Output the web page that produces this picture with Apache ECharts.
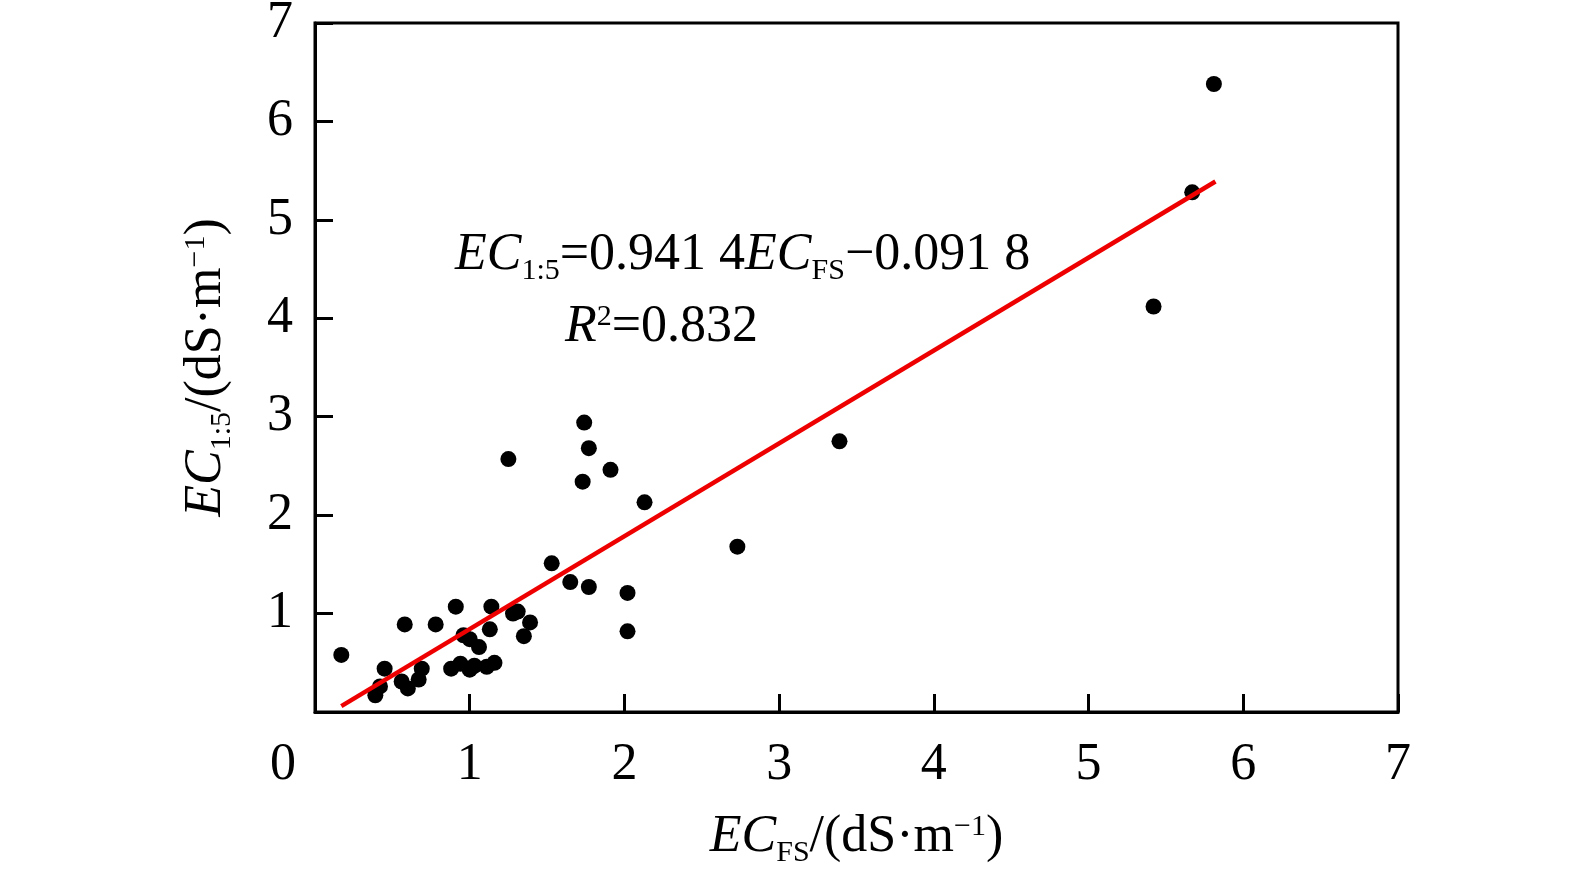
<!DOCTYPE html>
<html>
<head>
<meta charset="utf-8">
<script src="https://cdn.jsdelivr.net/npm/echarts@6/dist/echarts.min.js"></script>
<style>
html, body { margin: 0; padding: 0; background: #fff; }
#chart { width: 1575px; height: 875px; }
</style>
</head>
<body>
<div id="chart"></div>
<script>
// measured points: EC_FS (x) vs EC_1:5 (y)
const ecFS = [
  0.17, 0.39, 0.42, 0.45, 0.56, 0.58, 0.60, 0.67, 0.69, 0.78,
  0.88, 0.91, 0.94, 0.96, 1.00, 1.00, 1.03, 1.06, 1.11, 1.13,
  1.14, 1.16, 1.25, 1.28, 1.31, 1.35, 1.39, 1.53, 1.65, 1.73,
  1.74, 1.77, 1.77, 1.91, 2.02, 2.02, 2.13, 2.73, 3.39, 5.42,
  5.67, 5.81
]
const ec15 = [
  0.58, 0.17, 0.26, 0.44, 0.31, 0.89, 0.24, 0.33, 0.44, 0.89,
  0.44, 1.07, 0.49, 0.78, 0.74, 0.43, 0.47, 0.66, 0.46, 0.84,
  1.07, 0.50, 2.57, 1.00, 1.02, 0.77, 0.91, 1.51, 1.32, 2.34,
  2.94, 2.68, 1.27, 2.46, 1.21, 0.82, 2.13, 1.68, 2.75, 4.12,
  5.28, 6.38
]
// fitted line end points
const fitX = [0.17, 5.82]
const fitY = [0.06, 5.39]
const ticks = [0, 1, 2, 3, 4, 5, 6, 7]

const FONT = 'Liberation Serif'
const TICK_FS = 52

const chart = echarts.init(document.getElementById('chart'))

const scatterData = ecFS.map((x, i) => [x, ec15[i]])
const lineData = fitX.map((x, i) => [x, fitY[i]])

function richSet(size) {
  const small = Math.round(size * 0.58)
  return {
    i: { fontFamily: FONT, fontSize: size, fontStyle: 'italic', color: '#000' },
    n: { fontFamily: FONT, fontSize: size, color: '#000' },
    sub: { fontFamily: FONT, fontSize: small, color: '#000', padding: [Math.round(size * 0.62), 0, 0, 0] },
    sup: { fontFamily: FONT, fontSize: small, color: '#000', padding: [0, 0, Math.round(size * 0.36), 0] }
  }
}

const option = {
  backgroundColor: '#fff',
  animation: false,
  grid: {
    left: 315, top: 23, right: 177, bottom: 163,
    outerBoundsMode: 'none',
    show: true, borderColor: '#000', borderWidth: 3
  },
  xAxis: {
    type: 'value', min: ticks[0], max: ticks[ticks.length - 1], interval: 1,
    axisLine: { lineStyle: { color: '#000', width: 3 } },
    axisTick: { inside: true, length: 18, lineStyle: { color: '#000', width: 3 } },
    splitLine: { show: false },
    axisLabel: {
      fontFamily: FONT, fontSize: TICK_FS, color: '#000', margin: 27,
      formatter: v => v === 0 ? '{z|0}' : String(v),
      rich: { z: { fontFamily: FONT, fontSize: TICK_FS, color: '#000', padding: [0, 64, 0, 0] } }
    },
    name: '{i|EC}{sub|FS}{n|/(dS·m}{sup|−1}{n|)}',
    nameLocation: 'middle', nameGap: 94,
    nameTextStyle: { rich: richSet(52) }
  },
  yAxis: {
    type: 'value', min: ticks[0], max: ticks[ticks.length - 1], interval: 1,
    axisLine: { lineStyle: { color: '#000', width: 3 } },
    axisTick: { inside: true, length: 18, lineStyle: { color: '#000', width: 3 } },
    splitLine: { show: false },
    axisLabel: {
      fontFamily: FONT, fontSize: TICK_FS, color: '#000', margin: 22,
      showMinLabel: false
    },
    name: '{i|EC}{sub|1:5}{n|/(dS·m}{sup|−1}{n|)}',
    nameLocation: 'middle', nameGap: 78,
    nameTextStyle: { rich: richSet(52) }
  },
  graphic: [
    {
      type: 'text', left: 455, top: 229,
      style: {
        text: '{i|EC}{sub|1:5}{n|=0.941 4}{i|EC}{sub|FS}{n|−0.091 8}',
        rich: richSet(52)
      }
    },
    {
      type: 'text', left: 565, top: 301,
      style: {
        text: '{i|R}{sup|2}{n|=0.832}',
        rich: richSet(52)
      }
    }
  ],
  series: [
    {
      type: 'scatter', data: scatterData, symbolSize: 16,
      itemStyle: { color: '#000', opacity: 1 }, z: 2
    },
    {
      type: 'line', data: lineData, symbol: 'none',
      lineStyle: { color: '#ee0000', width: 4.5 }, z: 3
    }
  ]
}

chart.setOption(option)
</script>
</body>
</html>
